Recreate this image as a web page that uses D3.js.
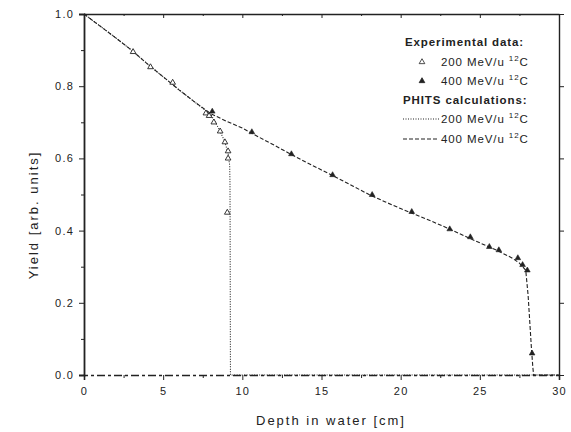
<!DOCTYPE html>
<html>
<head>
<meta charset="utf-8">
<script src="https://cdn.jsdelivr.net/npm/d3@7"></script>
<style>
  body { margin: 0; background: #fff; }
  svg text { font-family: "Liberation Sans", Arial, sans-serif; fill: #222; }
</style>
</head>
<body>
<svg id="chart" width="571" height="432"></svg>
<script>
// Measured depth-dose yields, 12C beams in water
const exp200 = [
  [3.1, 0.895], [4.2, 0.853], [5.6, 0.81], [7.7, 0.725], [7.9, 0.718],
  [8.2, 0.70], [8.6, 0.675], [8.9, 0.645], [9.1, 0.62], [9.1, 0.60], [9.05, 0.45]
];
const exp400 = [
  [8.1, 0.73], [10.6, 0.673], [13.1, 0.612], [15.7, 0.554], [18.2, 0.499],
  [20.7, 0.452], [23.1, 0.404], [24.4, 0.382], [25.6, 0.355], [26.2, 0.346],
  [27.4, 0.324], [27.7, 0.305], [28.0, 0.29], [28.3, 0.06]
];

// PHITS calculated yields
const calc200 = [
  [0, 1.0], [1, 0.967], [2, 0.934], [3, 0.9], [4, 0.862], [5, 0.826], [6, 0.79],
  [7, 0.756], [8, 0.722], [8.3, 0.70], [8.6, 0.675], [8.9, 0.645], [9.1, 0.615],
  [9.2, 0.58], [9.22, 0.53], [9.23, 0.4], [9.24, 0.2], [9.25, 0.0], [30, 0.0]
];
const calc400 = [
  [0, 1.0], [1, 0.967], [2, 0.934], [3, 0.9], [4, 0.862], [5, 0.826], [6, 0.79],
  [7, 0.756], [8, 0.724], [9, 0.703], [10, 0.684], [11, 0.66], [12, 0.637],
  [13, 0.613], [14, 0.59], [15, 0.568], [16, 0.546], [17, 0.523], [18, 0.5],
  [19, 0.48], [20, 0.461], [21, 0.443], [22, 0.425], [23, 0.406], [24, 0.386],
  [25, 0.366], [26, 0.347], [27, 0.325], [27.5, 0.31], [27.9, 0.29], [28.05, 0.22],
  [28.15, 0.15], [28.25, 0.08], [28.35, 0.02], [28.4, 0.0], [30, 0.0]
];

const xTicks = [0, 5, 10, 15, 20, 25, 30];
const yTicks = [0.0, 0.2, 0.4, 0.6, 0.8, 1.0];
const xMinor = [2.5, 7.5, 12.5, 17.5, 22.5, 27.5];
const yMinor = [0.1, 0.3, 0.5, 0.7, 0.9];

const legendRows = [
  { label: "Experimental data:", kind: "head" },
  { label: "200 MeV/u ", sup: "12", tail: "C", kind: "open" },
  { label: "400 MeV/u ", sup: "12", tail: "C", kind: "filled" },
  { label: "PHITS calculations:", kind: "head" },
  { label: "200 MeV/u ", sup: "12", tail: "C", kind: "dotted" },
  { label: "400 MeV/u ", sup: "12", tail: "C", kind: "dashed" }
];

const svg = d3.select("#chart");
const plotL = 84, plotR = 559, plotT = 14, plotB = 375;
const x = d3.scaleLinear().domain([0, 30]).range([plotL, plotR]);
const y = d3.scaleLinear().domain([0, 1]).range([plotB, plotT]);
const ink = "#222";

const axisStyle = (g) => {
  g.selectAll("text").attr("font-size", 11).attr("fill", ink)
    .attr("letter-spacing", 1.2)
    .style("font-family", "'Liberation Sans', Arial, sans-serif");
  g.selectAll("line").attr("stroke", ink);
};

// bottom axis, its baseline dashed
const gx = svg.append("g").attr("transform", `translate(0,${plotB})`)
  .call(d3.axisBottom(x).tickValues(xTicks).tickFormat(d3.format("d")).tickSize(5).tickPadding(7));
gx.select(".domain").attr("stroke", ink).attr("stroke-width", 1.6).attr("stroke-dasharray", "8,3,3,3");
axisStyle(gx);
svg.append("g").attr("transform", `translate(0,${plotB})`)
  .call(d3.axisBottom(x).tickValues(xMinor).tickFormat("").tickSize(3))
  .call(g => g.select(".domain").remove()).call(axisStyle);

// left axis
const gy = svg.append("g").attr("transform", `translate(${plotL},0)`)
  .call(d3.axisLeft(y).tickValues(yTicks).tickFormat(d3.format(".1f")).tickSize(5).tickPadding(5));
gy.select(".domain").attr("stroke", ink).attr("stroke-width", 1.8);
axisStyle(gy);
svg.append("g").attr("transform", `translate(${plotL},0)`)
  .call(d3.axisLeft(y).tickValues(yMinor).tickFormat("").tickSize(3))
  .call(g => g.select(".domain").remove()).call(axisStyle);

// top axis, ticks pointing inward
const gt = svg.append("g").attr("transform", `translate(0,${plotT})`)
  .call(d3.axisBottom(x).tickValues(xTicks).tickFormat("").tickSize(4).tickSizeOuter(0));
gt.select(".domain").attr("stroke", ink).attr("stroke-width", 1.6);
axisStyle(gt);
svg.append("g").attr("transform", `translate(0,${plotT})`)
  .call(d3.axisBottom(x).tickValues(xMinor).tickFormat("").tickSize(2))
  .call(g => g.select(".domain").remove()).call(axisStyle);

// right axis
const gr = svg.append("g").attr("transform", `translate(${plotR},0)`)
  .call(d3.axisRight(y).tickValues(yTicks).tickFormat("").tickSize(5).tickSizeOuter(0));
gr.select(".domain").attr("stroke", ink).attr("stroke-width", 1.4);
axisStyle(gr);

// axis titles
svg.append("text").attr("x", 331).attr("y", 425).attr("text-anchor", "middle")
  .attr("font-size", 13).attr("letter-spacing", 2).text("Depth in water [cm]");
svg.append("text").attr("transform", "translate(38,215) rotate(-90)")
  .attr("text-anchor", "middle").attr("font-size", 13).attr("letter-spacing", 2)
  .text("Yield [arb. units]");

// calculated curves
const line = d3.line().x(d => x(d[0])).y(d => y(d[1]));
svg.append("path").datum(calc400).attr("d", line).attr("fill", "none")
  .attr("stroke", ink).attr("stroke-width", 1.1).attr("stroke-dasharray", "4,2");
svg.append("path").datum(calc200).attr("d", line).attr("fill", "none")
  .attr("stroke", ink).attr("stroke-width", 1.1).attr("stroke-dasharray", "1,1.5");

// measured points
const tri = d3.symbol().type(d3.symbolTriangle).size(14);
svg.append("g").selectAll("path").data(exp200).join("path")
  .attr("d", tri).attr("transform", d => `translate(${x(d[0])},${y(d[1])})`)
  .attr("fill", "#fff").attr("stroke", ink).attr("stroke-width", 0.9);
svg.append("g").selectAll("path").data(exp400).join("path")
  .attr("d", tri).attr("transform", d => `translate(${x(d[0])},${y(d[1])})`)
  .attr("fill", ink).attr("stroke", ink).attr("stroke-width", 0.6);

// legend
const legend = svg.append("g");
const rowY = [42, 62, 81, 100, 119, 139];
legendRows.forEach((r, i) => {
  const yy = rowY[i];
  if (r.kind === "head") {
    legend.append("text").attr("x", i === 0 ? 405 : 403).attr("y", yy + 4)
      .attr("font-size", 11.5).attr("font-weight", "bold").attr("letter-spacing", 0.9)
      .text(r.label);
    return;
  }
  if (r.kind === "open" || r.kind === "filled") {
    legend.append("path").attr("d", tri).attr("transform", `translate(422,${yy})`)
      .attr("fill", r.kind === "open" ? "#fff" : ink).attr("stroke", ink).attr("stroke-width", 0.8);
  } else {
    legend.append("line").attr("x1", 403).attr("x2", 439).attr("y1", yy).attr("y2", yy)
      .attr("stroke", ink).attr("stroke-width", 1.1)
      .attr("stroke-dasharray", r.kind === "dotted" ? "1,1.5" : "4,2");
  }
  const t = legend.append("text").attr("x", 441).attr("y", yy + 4)
    .attr("font-size", 11.5).attr("letter-spacing", 0.9);
  t.append("tspan").text(r.label);
  t.append("tspan").attr("dy", -5).attr("font-size", 8).text(r.sup);
  t.append("tspan").attr("dy", 5).text(r.tail);
});
</script>
</body>
</html>
